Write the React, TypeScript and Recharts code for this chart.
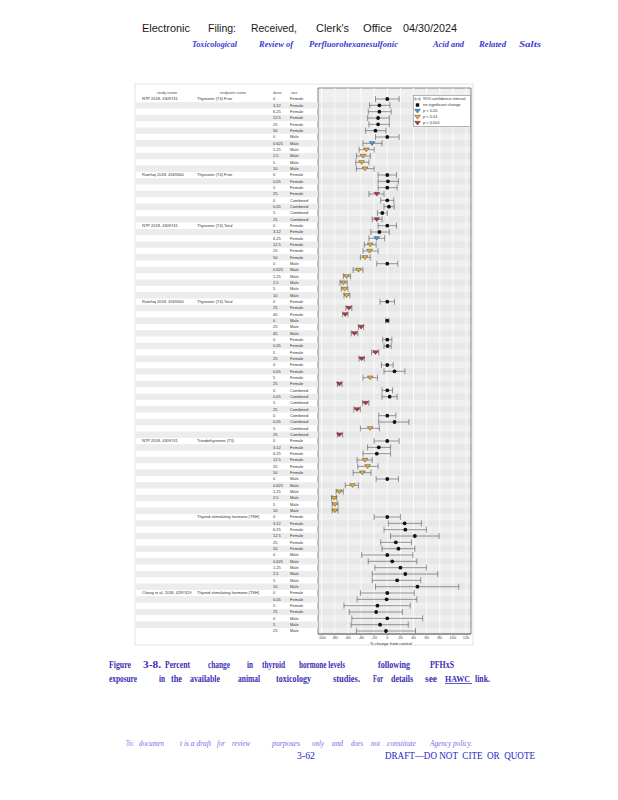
import React from 'react';
import { ScatterChart, Scatter, XAxis, YAxis, ErrorBar, ReferenceArea, ReferenceLine, Legend } from 'recharts';

// ---------- data ----------
const groupStudy = [
  'NTP 2018, 4309741',
  'Ramhøj 2018, 4569000',
  'NTP 2018, 4309741',
  'Ramhøj 2018, 4569000',
  'NTP 2018, 4309741',
  '',
  'Chang et al. 2018, 4287419',
];
const groupEndpoint = [
  'Thyroxine (T4) Free',
  'Thyroxine (T4) Free',
  'Thyroxine (T4) Total',
  'Thyroxine (T4) Total',
  'Triiodothyronine (T3)',
  'Thyroid stimulating hormone (TSH)',
  'Thyroid stimulating hormone (TSH)',
];
const groupSize = [12, 8, 12, 22, 12, 12, 7];

const doses = [
  '0', '3.12', '6.25', '12.5', '25', '50', '0', '0.625', '1.25', '2.5', '5', '10',
  '0', '0.05', '5', '25', '0', '0.05', '5', '25',
  '0', '3.12', '6.25', '12.5', '25', '50', '0', '0.625', '1.25', '2.5', '5', '10',
  '0', '25', '45', '0', '25', '45', '0', '0.05', '5', '25', '0', '0.05', '5', '25', '0', '0.05', '5', '25', '0', '0.05', '5', '25',
  '0', '3.12', '6.25', '12.5', '25', '50', '0', '0.625', '1.25', '2.5', '5', '10',
  '0', '3.12', '6.25', '12.5', '25', '50', '0', '0.625', '1.25', '2.5', '5', '10',
  '0', '0.05', '5', '25', '0', '5', '25',
];
const sexes = [
  'Female', 'Female', 'Female', 'Female', 'Female', 'Female', 'Male', 'Male', 'Male', 'Male', 'Male', 'Male',
  'Female', 'Female', 'Female', 'Female', 'Combined', 'Combined', 'Combined', 'Combined',
  'Female', 'Female', 'Female', 'Female', 'Female', 'Female', 'Male', 'Male', 'Male', 'Male', 'Male', 'Male',
  'Female', 'Female', 'Female', 'Male', 'Male', 'Male', 'Female', 'Female', 'Female', 'Female', 'Female', 'Female', 'Female', 'Female',
  'Combined', 'Combined', 'Combined', 'Combined', 'Combined', 'Combined', 'Combined', 'Combined',
  'Female', 'Female', 'Female', 'Female', 'Female', 'Female', 'Male', 'Male', 'Male', 'Male', 'Male', 'Male',
  'Female', 'Female', 'Female', 'Female', 'Female', 'Female', 'Male', 'Male', 'Male', 'Male', 'Male', 'Male',
  'Female', 'Female', 'Female', 'Female', 'Male', 'Male', 'Male',
];
const pctChange = [
  0, -12, -12, -14, -14, -18, 0, -23, -32, -37, -39, -34,
  0, 1, 0, -16, 0, 2.5, -7.6, -16,
  0, -12, -16, -26, -27, -34, 0, -44, -62, -67, -65, -62,
  0, -58.5, -64, 0, -40, -50, 0, 0.5, -18, -39, 0, 11, -26, -73, 0, 3.6, -33, -46, 0, 11, -26, -73,
  0, -13, -16, -34, -30, -38, 0, -53, -73, -81, -80, -80,
  0, 26.5, 27.5, 42, 13, 17, 0, 7.6, 20, 27.5, 15, 46,
  0, -1, -15, -17, 0, -11, -2,
];
const ciLower = [
  -18, -27, -29, -30, -28, -33, -18, -37, -43, -47, -48, -47,
  -14, -14, -14, -28, -10, -5, -15, -23,
  -14, -25, -28, -35, -37, -41, -16, -52, -67, -72, -70, -66,
  -11, -63, -68, -2.5, -44, -55, -7, -5, -24, -43, -9, -5, -37, -76, -8, -8, -38, -51, -13, -13, -41, -76,
  -20, -30, -37, -46, -45, -52, -17, -64, -78, -85, -84, -84,
  -20, 1.5, -5, 5, -10, -8, -39, -29, -19, -23, -23, -18,
  -41, -46, -66, -58, -54, -55, -47,
];
const ciUpper = [
  18, 4, 6, 3, 3, -2, 18, -8, -20, -26, -28, -20,
  14, 17, 15, -5, 10, 10.5, 0, -8,
  14, 3, -4, -17, -14, -26, 16, -37, -56, -61, -60, -57,
  11, -54, -60, 2.5, -36, -45, 7, 6, -13, -35, 9, 27, -15, -69, 8, 15, -28, -41, 13, 33, -12, -68,
  18, 5, 5, -23, -14, -25, 17, -44, -67, -77, -75, -75,
  20, 52, 59.5, 79, 37, 42, 39, 45, 59.5, 77, 51, 109,
  41, 45, 35, 23, 54, 32, 43,
];
const significance = [
  'ns', 'ns', 'ns', 'ns', 'ns', 'ns', 'ns', 'p05', 'p01', 'p01', 'p01', 'p01',
  'ns', 'ns', 'ns', 'p001', 'ns', 'ns', 'ns', 'p001',
  'ns', 'ns', 'p05', 'p01', 'p01', 'p01', 'ns', 'p01', 'p01', 'p01', 'p01', 'p01',
  'ns', 'p001', 'p001', 'ns', 'p001', 'p001', 'ns', 'ns', 'p001', 'p001', 'ns', 'ns', 'p01', 'p001',
  'ns', 'ns', 'p001', 'p001', 'ns', 'ns', 'p01', 'p001',
  'ns', 'ns', 'ns', 'p01', 'p01', 'p01', 'ns', 'p01', 'p01', 'p01', 'p01', 'p01',
  'ns', 'ns', 'ns', 'ns', 'ns', 'ns', 'ns', 'ns', 'ns', 'ns', 'ns', 'ns',
  'ns', 'ns', 'ns', 'ns', 'ns', 'ns', 'ns',
];
const xTicks = [-100, -80, -60, -40, -20, 0, 20, 40, 60, 80, 100, 120];
const legendLabels = ['95% confidence interval', 'no significant change', 'p < 0.05', 'p < 0.01', 'p < 0.001'];
const tableHeaders = ['study name', 'endpoint name', 'dose', 'sex'];

// ---------- derived ----------
const rows = pctChange.map((v, i) => ({
  x: v,
  y: i + 1,
  err: [v - ciLower[i], ciUpper[i] - v],
  sig: significance[i],
}));
const groupStartRow: Record<number, number> = {};
{
  let acc = 1;
  groupSize.forEach((n, g) => {
    groupStartRow[acc] = g;
    acc += n;
  });
}
const rowTicks = [0, ...rows.map((r) => r.y)];
const Y_DOMAIN: [number, number] = [-0.737, 85.47];
const X_DOMAIN: [number, number] = [-105.6, 127.6];
const ROW_H = 546 / (Y_DOMAIN[1] - Y_DOMAIN[0]);

const SANS = "'Liberation Sans', Arial, sans-serif";
const SERIF = "'Liberation Serif', 'Times New Roman', serif";
const sigColor: Record<string, string> = { p05: '#3f9fe0', p01: '#f2b11f', p001: '#cf2740' };

function triPath(cx: number, cy: number) {
  return `M${cx - 2.9},${cy - 1.7}L${cx + 2.9},${cy - 1.7}L${cx},${cy + 2.1}Z`;
}

function renderMarker(p: any) {
  const { cx, cy, payload } = p;
  if (cx == null || cy == null) return <g />;
  if (payload.sig === 'ns') return <circle cx={cx} cy={cy} r={1.9} fill="#111" />;
  return <path d={triPath(cx, cy)} fill={sigColor[payload.sig]} stroke="#333" strokeWidth={0.45} />;
}

function RowTick(props: any) {
  const { y, payload } = props;
  const r = payload.value as number;
  const base = { fontSize: 4, fontFamily: SANS, fill: '#333', dy: '0.35em' };
  if (r === 0) {
    return (
      <g>
        <text x={32} y={y} textAnchor="middle" {...base} fill="#555">{tableHeaders[0]}</text>
        <text x={98} y={y} textAnchor="middle" {...base} fill="#555">{tableHeaders[1]}</text>
        <text x={138} y={y} {...base} fill="#555">{tableHeaders[2]}</text>
        <text x={156} y={y} {...base} fill="#555">{tableHeaders[3]}</text>
      </g>
    );
  }
  const g = groupStartRow[r];
  return (
    <g>
      {r % 2 === 0 ? <rect x={1} y={y - ROW_H / 2} width={182} height={ROW_H} fill="#ececec" /> : null}
      {g !== undefined && groupStudy[g] ? <text x={7} y={y} {...base}>{groupStudy[g]}</text> : null}
      {g !== undefined ? <text x={62} y={y} {...base}>{groupEndpoint[g]}</text> : null}
      <text x={138} y={y} {...base}>{doses[r - 1]}</text>
      <text x={155} y={y} {...base}>{sexes[r - 1]}</text>
    </g>
  );
}

function LegendBox() {
  return (
    <svg width={58} height={32} style={{ display: 'block' }}>
      <rect x={0.5} y={0.5} width={57} height={31} fill="#fff" stroke="#888" strokeWidth={0.6} />
      {legendLabels.map((lab, i) => {
        const cy = 4 + i * 6;
        let icon: React.ReactNode;
        if (i === 0) {
          icon = (
            <g stroke="#555" strokeWidth={0.6}>
              <line x1={2} x2={7} y1={cy} y2={cy} />
              <line x1={2} x2={2} y1={cy - 1.5} y2={cy + 1.5} />
              <line x1={7} x2={7} y1={cy - 1.5} y2={cy + 1.5} />
            </g>
          );
        } else if (i === 1) {
          icon = <rect x={2.8} y={cy - 1.7} width={3.4} height={3.4} fill="#111" />;
        } else {
          const key = ['p05', 'p01', 'p001'][i - 2];
          icon = <path d={triPath(4.5, cy)} fill={sigColor[key]} stroke="#333" strokeWidth={0.45} />;
        }
        return (
          <g key={i}>
            {icon}
            <text x={10} y={cy} dy="0.35em" fontSize={4} fontFamily={SANS} fill="#333">{lab}</text>
          </g>
        );
      })}
    </svg>
  );
}

// ---------- page text ----------
type Word = [string, number, number];
const header1: Word[] = [['Electronic', 142, 190], ['Filing:', 208, 236], ['Received,', 251, 297], ["Clerk's", 316, 349], ['Office', 363, 392], ['04/30/2024', 403, 457]];
const header2: Word[] = [['Toxicological', 192, 237], ['Review of', 259, 293], ['Perfluorohexanesulfonic', 309, 398], ['Acid and', 433, 464], ['Related', 479, 506], ['Salts', 519, 541]];
const caption1: Word[] = [['Figure', 109, 131], ['3-8.', 143, 161], ['Percent', 165, 190], ['change', 208, 230], ['in', 247, 253], ['thyroid', 262, 285], ['hormone levels', 299, 345], ['following', 378, 410], ['PFHxS', 430, 454]];
const caption2: Word[] = [['exposure', 109, 137], ['in', 159, 165], ['the', 171, 182], ['available', 190, 220], ['animal', 238, 260], ['toxicology', 276, 311], ['studies.', 333, 360], ['For', 373, 383], ['details', 391, 413], ['see', 425, 437], ['link.', 475, 490]];
const captionLink: Word[] = [['HAWC', 445, 470]];
const footer1: Word[] = [['This', 126, 133], ['documen', 139, 164], ['t is a draft', 180, 211], ['for', 217, 225], ['review', 232, 250], ['purposes', 272, 300], ['only', 312, 324], ['and', 332, 343], ['does', 351, 363], ['not', 371, 380], ['constitute', 387, 416], ['Agency policy.', 430, 472]];
const footer2: Word[] = [['3-62', 297, 315], ['DRAFT—DO NOT  CITE  OR  QUOTE', 385, 535]];

function Words(p: { words: Word[]; y: number; font: string; size: number; color: string; italic?: boolean; bold?: boolean }) {
  return (
    <g>
      {p.words.map(([t, x0, x1], i) => (
        <text
          key={i}
          x={x0}
          y={p.y}
          textLength={x1 - x0}
          lengthAdjust="spacingAndGlyphs"
          fontFamily={p.font}
          fontSize={p.size}
          fill={p.color}
          fontStyle={p.italic ? 'italic' : 'normal'}
          fontWeight={p.bold ? 'bold' : 'normal'}
          style={{ whiteSpace: 'pre' }}
        >
          {t}
        </text>
      ))}
    </g>
  );
}

export default function App() {
  const evenRows = rows.filter((r) => r.y % 2 === 0).map((r) => r.y);
  return (
    <div style={{ position: 'absolute', left: 0, top: 0, width: 618, height: 800, background: '#fff', overflow: 'hidden' }}>
      <svg width={618} height={800} style={{ position: 'absolute', left: 0, top: 0 }}>
        <Words words={header1} y={32} font={SANS} size={11} color="#1a1a1a" />
        <Words words={header2} y={46.5} font={SERIF} size={9} color="#3a3ad8" italic bold />
        <rect x={135} y={84} width={338} height={561} fill="none" stroke="#dddddd" strokeWidth={0.8} />
        <text x={391} y={644.5} textAnchor="middle" fontSize={4.2} fontFamily={SANS} fill="#333">% change from control</text>
        <Words words={caption1} y={668} font={SERIF} size={9.5} color="#3b2db5" bold />
        <Words words={caption2} y={681.5} font={SERIF} size={9.5} color="#3b2db5" bold />
        <Words words={captionLink} y={681.5} font={SERIF} size={8.3} color="#3b2db5" bold />
        <line x1={445} x2={472} y1={683.5} y2={683.5} stroke="#3b2db5" strokeWidth={0.8} />
        <Words words={footer1} y={746} font={SERIF} size={8} color="#7a6ae6" italic />
        <Words words={footer2} y={759} font={SERIF} size={10} color="#2626c8" />
      </svg>
      <div style={{ position: 'absolute', left: 135, top: 84 }}>
        <ScatterChart width={340} height={564} margin={{ top: 4, right: 4, bottom: 0, left: 0 }}>
          <XAxis
            type="number"
            dataKey="x"
            domain={X_DOMAIN}
            allowDataOverflow
            ticks={xTicks}
            interval={0}
            height={14}
            tickSize={1.5}
            tickMargin={0.3}
            tick={{ fontSize: 4, fill: '#444', fontFamily: SANS }}
            axisLine={{ stroke: '#666', strokeWidth: 0.8 }}
            tickLine={{ stroke: '#666', strokeWidth: 0.5 }}
          />
          <YAxis
            type="number"
            dataKey="y"
            domain={Y_DOMAIN}
            allowDataOverflow
            reversed
            ticks={rowTicks}
            interval={0}
            width={183}
            axisLine={false}
            tickLine={false}
            tick={(p: any) => <RowTick {...p} />}
          />
          <ReferenceArea x1={X_DOMAIN[0]} x2={X_DOMAIN[1]} y1={Y_DOMAIN[0]} y2={Y_DOMAIN[1]} fill="#efefef" fillOpacity={1} stroke="none" />
          {evenRows.map((r) => (
            <ReferenceArea key={'s' + r} x1={X_DOMAIN[0]} x2={X_DOMAIN[1]} y1={r - 0.5} y2={r + 0.5} fill="#000" fillOpacity={0.03} stroke="none" />
          ))}
          {xTicks.map((t) => (
            <ReferenceLine key={'g' + t} x={t} stroke="#ffffff" strokeWidth={0.8} />
          ))}
          <ReferenceArea x1={X_DOMAIN[0]} x2={X_DOMAIN[1]} y1={Y_DOMAIN[0]} y2={Y_DOMAIN[1]} fill="none" stroke="#666" strokeWidth={0.8} />
          <Legend
            layout="horizontal"
            verticalAlign="middle"
            align="center"
            wrapperStyle={{ left: 278, top: 11, width: 58, height: 32 }}
            content={() => <LegendBox />}
          />
          <Scatter data={rows} shape={renderMarker} isAnimationActive={false}>
            <ErrorBar dataKey="err" direction="x" width={3} stroke="#555" strokeWidth={0.6} />
          </Scatter>
        </ScatterChart>
      </div>
    </div>
  );
}
